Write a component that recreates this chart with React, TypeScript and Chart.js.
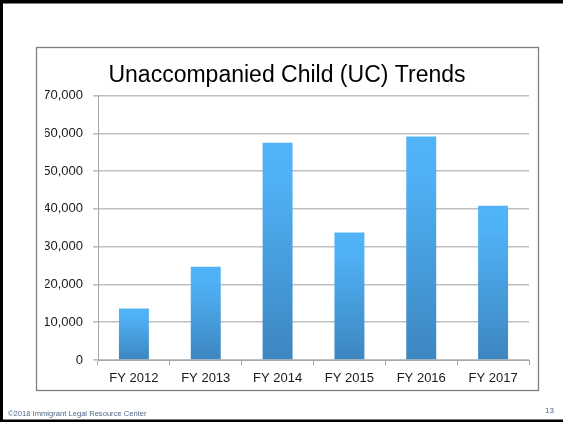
import React, { useEffect, useRef } from "react";
import { Chart, registerables } from "chart.js";

Chart.register(...registerables);

const categories = ["FY 2012", "FY 2013", "FY 2014", "FY 2015", "FY 2016", "FY 2017"];
const ucCounts = [13625, 24668, 57496, 33726, 59170, 40810];
const yMin = 0;
const yMax = 70000;
const yStep = 10000;
const chartTitle = "Unaccompanied Child (UC) Trends";
const footerText = "©2018 Immigrant Legal Resource Center";
const pageNumber = "13";

const W = 563;
const H = 422;

const framePlugin = {
  id: "slideFrame",
  beforeDraw(chart: any) {
    const ctx = chart.ctx as CanvasRenderingContext2D;
    ctx.save();
    ctx.fillStyle = "#ffffff";
    ctx.fillRect(0, 0, W, H);
    ctx.fillStyle = "#000000";
    ctx.fillRect(0, 0, W, 3.5);
    ctx.fillRect(0, 0, 3, H);
    ctx.fillRect(0, 419.5, W, 2.5);
    ctx.strokeStyle = "#808080";
    ctx.lineWidth = 1.3;
    ctx.strokeRect(36.5, 47.5, 502, 343);
    ctx.restore();
  },
};

function barFill(context: any) {
  const chart = context.chart;
  const area = chart.chartArea;
  if (!area) return "#4aa6e8";
  const v = context.raw as number;
  const yScale = chart.scales.y;
  const top = yScale.getPixelForValue(v);
  const bottom = yScale.getPixelForValue(0);
  const g = chart.ctx.createLinearGradient(0, top, 0, bottom);
  g.addColorStop(0, "#50b3f8");
  g.addColorStop(0.15, "#50b2f6");
  g.addColorStop(1, "#3d86c0");
  return g;
}

export default function App() {
  const ref = useRef<HTMLCanvasElement | null>(null);

  useEffect(() => {
    if (!ref.current) return;
    const chart = new Chart(ref.current, {
      type: "bar",
      data: {
        labels: categories,
        datasets: [
          {
            label: "UC",
            data: ucCounts,
            backgroundColor: barFill,
            borderWidth: 0,
            barPercentage: 0.417,
            categoryPercentage: 1.0,
          },
        ],
      },
      options: {
        responsive: false,
        animation: false,
        layout: { padding: { left: 45, right: 34, top: 62, bottom: 32 } },
        plugins: {
          legend: { display: false },
          tooltip: { enabled: false },
          title: {
            display: true,
            text: chartTitle,
            color: "#000000",
            font: { family: "'Liberation Sans', Arial, sans-serif", size: 23, weight: "normal", lineHeight: 1.2 },
            padding: { top: 0, bottom: 6 },
          },
        },
        scales: {
          x: {
            afterFit: (s: any) => {
              s.height = 30;
            },
            grid: {
              display: true,
              drawOnChartArea: false,
              drawTicks: true,
              tickLength: 5,
              color: "#a6a6a6",
              offset: true,
            },
            border: { display: true, color: "#a6a6a6", width: 1 },
            ticks: {
              color: "#1a1a1a",
              padding: 6,
              font: { family: "'Liberation Sans', Arial, sans-serif", size: 13 },
            },
          },
          y: {
            min: yMin,
            max: yMax,
            afterFit: (s: any) => {
              s.width = 53;
            },
            grid: { color: "#bfbfbf", lineWidth: 1.6, tickLength: 5, drawTicks: true },
            border: { display: true, color: "#a6a6a6", width: 1 },
            ticks: {
              stepSize: yStep,
              color: "#1a1a1a",
              padding: 10,
              font: { family: "'Liberation Sans', Arial, sans-serif", size: 13 },
              callback: (v: any) => Number(v).toLocaleString("en-US"),
            },
          },
        },
      },
      plugins: [framePlugin],
    });
    return () => chart.destroy();
  }, []);

  return (
    <div style={{ position: "fixed", left: 0, top: 0, width: W, height: H, background: "#fff", overflow: "hidden" }}>
      <canvas ref={ref} width={W} height={H} style={{ display: "block", width: W, height: H }} />
      <span
        style={{
          position: "absolute",
          left: 8,
          top: 409,
          fontFamily: "'Liberation Sans', Arial, sans-serif",
          fontSize: 7.6,
          lineHeight: "9px",
          color: "#4f6788",
          whiteSpace: "nowrap",
        }}
      >
        {footerText}
      </span>
      <span
        style={{
          position: "absolute",
          left: 545,
          top: 406,
          fontFamily: "'Liberation Sans', Arial, sans-serif",
          fontSize: 8,
          lineHeight: "10px",
          color: "#4f6788",
          whiteSpace: "nowrap",
        }}
      >
        {pageNumber}
      </span>
    </div>
  );
}
